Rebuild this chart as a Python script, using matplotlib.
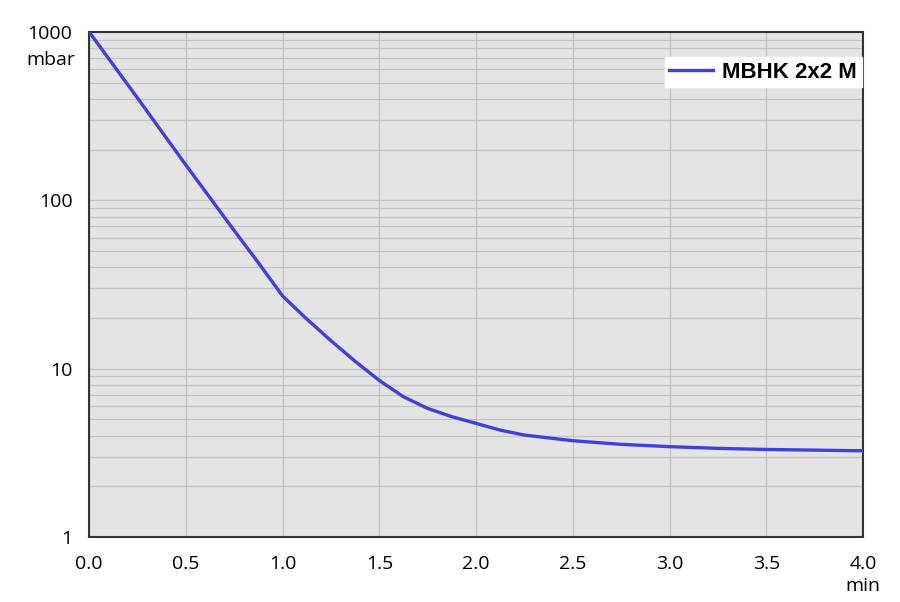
import numpy as np
import matplotlib.pyplot as plt
from matplotlib.ticker import NullFormatter, LogLocator

# pump-down curve
time_min = [0.0, 0.25, 0.5, 0.75, 0.875, 1.0, 1.125, 1.25, 1.375, 1.5, 1.625, 1.75, 1.875,
            2.0, 2.125, 2.25, 2.5, 2.75, 3.0, 3.25, 3.5, 3.75, 4.0]
pressure_mbar = [1000, 405, 162, 66, 42.5, 27, 19.7, 14.65, 11.05, 8.5, 6.8, 5.8, 5.18,
                 4.73, 4.31, 4.03, 3.73, 3.55, 3.44, 3.36, 3.31, 3.28, 3.25]
series_label = "MBHK 2x2 M"
x_ticks = [0.0, 0.5, 1.0, 1.5, 2.0, 2.5, 3.0, 3.5, 4.0]
y_ticks = [1, 10, 100, 1000]

fig = plt.figure(figsize=(9, 6.02), dpi=100)
ax = fig.add_axes([0.099, 0.108, 0.86, 0.839])
ax.set_facecolor("#e4e4e4")

ax.plot(time_min, pressure_mbar, color="#4040e0", lw=2.4, label=series_label,
        solid_joinstyle="round", zorder=3)

ax.set_yscale("log")
ax.set_xlim(0, 4)
ax.set_ylim(1, 1000)
ax.set_xticks(x_ticks)
ax.set_xticklabels([f"{v:.1f}" for v in x_ticks])
ax.set_yticks(y_ticks)
ax.set_yticklabels([str(v) for v in y_ticks])
ax.yaxis.set_minor_locator(LogLocator(base=10, subs=np.arange(2, 10)))
ax.yaxis.set_minor_formatter(NullFormatter())
ax.tick_params(which="both", length=0, labelsize=14)
ax.tick_params(axis="x", pad=13)
ax.tick_params(axis="y", pad=12)
for lab in ax.get_xticklabels() + ax.get_yticklabels():
    lab.set_family("Open Sans")

ax.grid(True, which="major", axis="both", color="#c4c4c4", lw=0.9)
ax.grid(True, which="minor", axis="y", color="#c4c4c4", lw=0.9)

for sp in ax.spines.values():
    sp.set_color("#333333")
    sp.set_linewidth(1.5)

fig.text(0.084, 0.9, "mbar", ha="right", va="center", fontsize=14, family="Open Sans")
fig.text(0.959, 0.026, "min", ha="center", va="center", fontsize=14, family="Open Sans")

leg = ax.legend(loc="upper right", bbox_to_anchor=(0.998, 0.95), frameon=True, fancybox=False,
                prop={"family": "Liberation Sans", "weight": "bold", "size": 16},
                handlelength=2.0, borderpad=0.2, handletextpad=0.4, borderaxespad=0)
leg.get_frame().set_facecolor("white")
leg.get_frame().set_edgecolor("white")
leg.get_frame().set_alpha(1)

fig.savefig("out.png", dpi=100)
